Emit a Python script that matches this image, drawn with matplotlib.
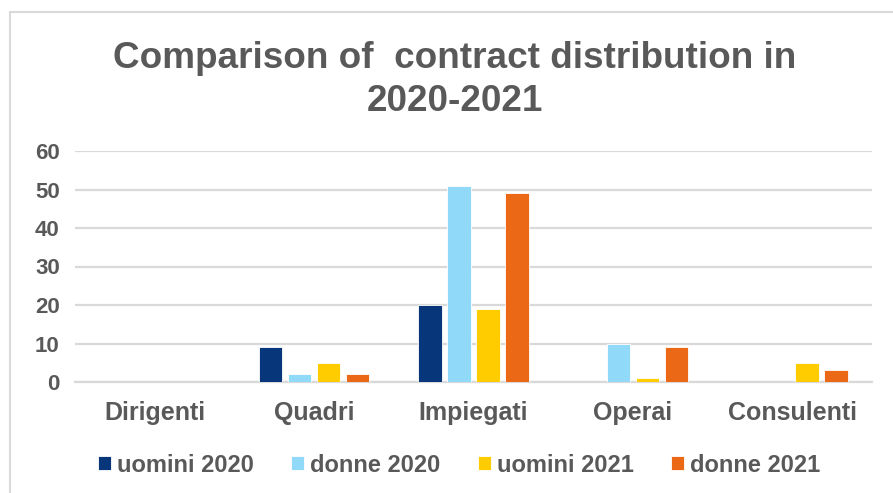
import matplotlib
matplotlib.use("Agg")
import matplotlib.pyplot as plt
import numpy as np
from matplotlib.patches import Rectangle

categories = ["Dirigenti", "Quadri", "Impiegati", "Operai", "Consulenti"]
series_names = ["uomini 2020", "donne 2020", "uomini 2021", "donne 2021"]
uomini_2020 = [0, 9, 20, 0, 0]
donne_2020 = [0, 2, 51, 10, 0]
uomini_2021 = [0, 5, 19, 1, 5]
donne_2021 = [0, 2, 49, 9, 3]
yticks = [0, 10, 20, 30, 40, 50, 60]
title = "Comparison of  contract distribution in\n2020-2021"

colors = ["#08367A", "#91D9F8", "#FFCC00", "#EB6816"]
grey = "#595959"

plt.rcParams['font.family'] = ['Liberation Sans', 'DejaVu Sans']
plt.rcParams['font.weight'] = 'bold'

fig = plt.figure(figsize=(8.93, 4.93), dpi=100)
fig.patches.append(Rectangle((10/893, -0.1), 1.0, 1 - 12/493 + 0.1, transform=fig.transFigure,
                             fill=False, edgecolor="#D9D9D9", linewidth=1.5))

ax = fig.add_axes([75/893, 1 - 382/493, (872-75)/893, (382-151)/493])
x = np.arange(len(categories))
pitch = 0.182
width = 0.148
data = [uomini_2020, donne_2020, uomini_2021, donne_2021]
for i, (vals, name, c) in enumerate(zip(data, series_names, colors)):
    ax.bar(x + (i - 1.5) * pitch, vals, width=width, color=c, label=name, zorder=3,
           edgecolor="white", linewidth=0.6)

ax.set_xlim(-0.5, len(categories) - 0.5)
ax.set_ylim(0, 60)
ax.set_yticks(yticks)
ax.set_xticks(x)
ax.set_xticklabels(categories)
ax.tick_params(axis='x', length=0, colors=grey, labelsize=18, pad=14)
ax.tick_params(axis='y', length=0, colors=grey, labelsize=16, pad=11)
for lab in ax.get_xticklabels() + ax.get_yticklabels():
    lab.set_fontweight('bold')
ax.grid(axis='y', color="#D9D9D9", linewidth=1.6, zorder=0)
for s in ['top', 'right', 'left']:
    ax.spines[s].set_visible(False)
ax.spines['bottom'].set_color("#D9D9D9")
ax.spines['bottom'].set_linewidth(1.6)

fig.text(454.5/893, 1 - 111/493, title, ha='center', va='baseline', fontsize=26.6,
         fontweight='bold', color=grey, linespacing=1.29, multialignment='center')

leg = fig.legend(loc='center', bbox_to_anchor=(459/893, 1 - 465/493), ncol=4, frameon=False,
                 fontsize=17, handlelength=0.55, handleheight=0.55, handletextpad=0.25,
                 columnspacing=1.59, borderpad=0, borderaxespad=0)
for t in leg.get_texts():
    t.set_color(grey)
    t.set_fontweight('bold')

fig.savefig("out.png", dpi=100)
